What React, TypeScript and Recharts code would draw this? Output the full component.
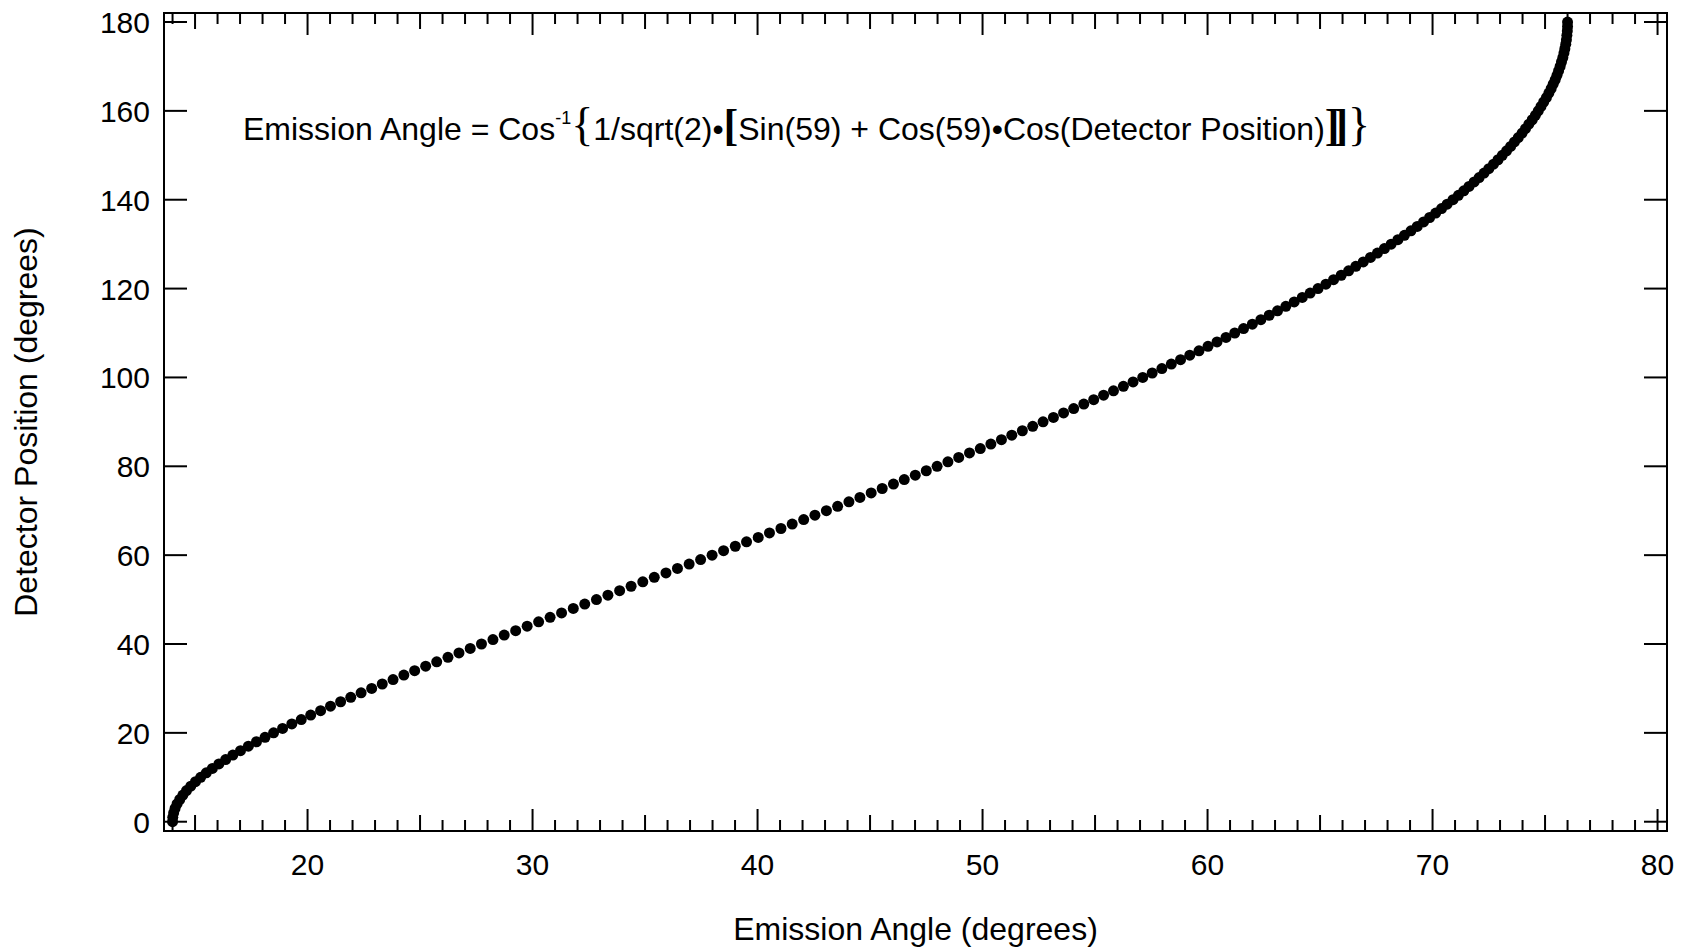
import { ScatterChart, Scatter, XAxis, YAxis, ReferenceArea } from "recharts";

// detector position (deg), one point per degree
const DETECTOR_POSITION = [
  0, 1, 2, 3, 4, 5, 6, 7, 8, 9, 10, 11, 12, 13, 14, 15, 16, 17, 18, 19,
  20, 21, 22, 23, 24, 25, 26, 27, 28, 29, 30, 31, 32, 33, 34, 35, 36, 37, 38, 39,
  40, 41, 42, 43, 44, 45, 46, 47, 48, 49, 50, 51, 52, 53, 54, 55, 56, 57, 58, 59,
  60, 61, 62, 63, 64, 65, 66, 67, 68, 69, 70, 71, 72, 73, 74, 75, 76, 77, 78, 79,
  80, 81, 82, 83, 84, 85, 86, 87, 88, 89, 90, 91, 92, 93, 94, 95, 96, 97, 98, 99,
  100, 101, 102, 103, 104, 105, 106, 107, 108, 109, 110, 111, 112, 113, 114, 115, 116, 117, 118, 119,
  120, 121, 122, 123, 124, 125, 126, 127, 128, 129, 130, 131, 132, 133, 134, 135, 136, 137, 138, 139,
  140, 141, 142, 143, 144, 145, 146, 147, 148, 149, 150, 151, 152, 153, 154, 155, 156, 157, 158, 159,
  160, 161, 162, 163, 164, 165, 166, 167, 168, 169, 170, 171, 172, 173, 174, 175, 176, 177, 178, 179,
  180,
];

// emission angle (deg) for each detector position
const EMISSION_ANGLE = [
  14.0, 14.01, 14.05, 14.11, 14.2, 14.32, 14.46, 14.62, 14.81, 15.02,
  15.25, 15.5, 15.77, 16.06, 16.36, 16.68, 17.02, 17.37, 17.73, 18.11,
  18.49, 18.89, 19.3, 19.72, 20.14, 20.58, 21.02, 21.47, 21.92, 22.38,
  22.85, 23.32, 23.8, 24.28, 24.76, 25.25, 25.74, 26.24, 26.73, 27.23,
  27.73, 28.24, 28.74, 29.25, 29.76, 30.27, 30.78, 31.29, 31.81, 32.32,
  32.84, 33.35, 33.87, 34.38, 34.9, 35.41, 35.93, 36.44, 36.96, 37.47,
  37.98, 38.49, 39.01, 39.51, 40.03, 40.53, 41.04, 41.54, 42.05, 42.55,
  43.06, 43.56, 44.06, 44.55, 45.05, 45.54, 46.04, 46.52, 47.01, 47.5,
  47.98, 48.46, 48.94, 49.42, 49.9, 50.37, 50.84, 51.3, 51.77, 52.23,
  52.69, 53.15, 53.6, 54.05, 54.5, 54.94, 55.38, 55.82, 56.26, 56.69,
  57.12, 57.54, 57.97, 58.39, 58.8, 59.21, 59.62, 60.02, 60.42, 60.82,
  61.21, 61.6, 61.99, 62.37, 62.74, 63.11, 63.48, 63.85, 64.21, 64.56,
  64.91, 65.26, 65.6, 65.94, 66.27, 66.59, 66.92, 67.24, 67.55, 67.86,
  68.16, 68.46, 68.75, 69.04, 69.32, 69.6, 69.87, 70.14, 70.4, 70.65,
  70.91, 71.15, 71.39, 71.62, 71.85, 72.07, 72.29, 72.5, 72.71, 72.91,
  73.1, 73.29, 73.47, 73.64, 73.81, 73.98, 74.13, 74.28, 74.43, 74.57,
  74.7, 74.82, 74.94, 75.06, 75.17, 75.27, 75.36, 75.45, 75.53, 75.6,
  75.67, 75.73, 75.79, 75.84, 75.88, 75.92, 75.95, 75.97, 75.99, 76.0,
  76.0,
];

const X_TICKS = [
  14, 15, 16, 17, 18, 19, 20, 21, 22, 23, 24, 25, 26, 27, 28, 29, 30,
  31, 32, 33, 34, 35, 36, 37, 38, 39, 40, 41, 42, 43, 44, 45, 46, 47,
  48, 49, 50, 51, 52, 53, 54, 55, 56, 57, 58, 59, 60, 61, 62, 63, 64,
  65, 66, 67, 68, 69, 70, 71, 72, 73, 74, 75, 76, 77, 78, 79, 80,
];
const Y_TICKS = [0, 20, 40, 60, 80, 100, 120, 140, 160, 180];

const X_DOMAIN = [13.62, 80.42];
const Y_DOMAIN = [-2.09, 182.03];

const W = 1688;
const H = 951;
const M = { top: 13, right: 21, left: 0, bottom: 0 };
const Y_AXIS_W = 164;
const X_AXIS_H = 120;
const PLOT_LEFT = M.left + Y_AXIS_W;
const PLOT_RIGHT = W - M.right;
const PLOT_TOP = M.top;
const PLOT_BOTTOM = H - X_AXIS_H;

const FONT = "'Liberation Sans', Arial, Helvetica, sans-serif";
const SERIF = "'Liberation Serif', 'Times New Roman', serif";

const data = DETECTOR_POSITION.map((d, i) => ({ x: EMISSION_ANGLE[i], y: d }));

function XTick(props: any) {
  const { x, payload } = props;
  const v = payload.value;
  const len = v % 10 === 0 ? 22 : v % 5 === 0 ? 16 : 11;
  return (
    <g>
      <line x1={x} x2={x} y1={PLOT_BOTTOM} y2={PLOT_BOTTOM - len} stroke="#000" strokeWidth={2} />
      <line x1={x} x2={x} y1={PLOT_TOP} y2={PLOT_TOP + len} stroke="#000" strokeWidth={2} />
      {v % 10 === 0 && (
        <text x={x} y={PLOT_BOTTOM + 44} textAnchor="middle" fontSize={30} fontFamily={FONT} fill="#000">
          {v}
        </text>
      )}
    </g>
  );
}

function YTick(props: any) {
  const { y, payload } = props;
  return (
    <g>
      <line x1={PLOT_LEFT} x2={PLOT_LEFT + 23} y1={y} y2={y} stroke="#000" strokeWidth={2} />
      <line x1={PLOT_RIGHT} x2={PLOT_RIGHT - 23} y1={y} y2={y} stroke="#000" strokeWidth={2} />
      <text x={PLOT_LEFT - 14} y={y + 11} textAnchor="end" fontSize={30} fontFamily={FONT} fill="#000">
        {payload.value}
      </text>
    </g>
  );
}

const Dot = (props: any) => <circle cx={props.cx} cy={props.cy} r={5.5} fill="#000" />;

export default function App() {
  return (
    <div style={{ position: "absolute", left: 0, top: 0, width: W, height: H, background: "#fff" }}>
      <ScatterChart width={W} height={H} margin={M}>
        <XAxis
          dataKey="x"
          type="number"
          domain={X_DOMAIN}
          ticks={X_TICKS}
          interval={0}
          allowDataOverflow
          axisLine={false}
          tickLine={false}
          tick={<XTick />}
          height={X_AXIS_H}
        />
        <YAxis
          dataKey="y"
          type="number"
          domain={Y_DOMAIN}
          ticks={Y_TICKS}
          interval={0}
          allowDataOverflow
          axisLine={false}
          tickLine={false}
          tick={<YTick />}
          width={Y_AXIS_W}
        />
        <ReferenceArea
          x1={X_DOMAIN[0]}
          x2={X_DOMAIN[1]}
          y1={Y_DOMAIN[0]}
          y2={Y_DOMAIN[1]}
          fill="none"
          fillOpacity={0}
          stroke="#000"
          strokeWidth={2}
          ifOverflow="visible"
        />
        <Scatter data={data} shape={Dot} isAnimationActive={false} />
      </ScatterChart>

      {/* titles and the formula annotation */}
      <svg width={W} height={H} style={{ position: "absolute", left: 0, top: 0, pointerEvents: "none" }}>
        <text x={(PLOT_LEFT + PLOT_RIGHT) / 2} y={940} textAnchor="middle" fontSize={32} fontFamily={FONT} fill="#000">
          Emission Angle (degrees)
        </text>
        <text
          transform={`translate(37, ${(PLOT_TOP + PLOT_BOTTOM) / 2}) rotate(-90)`}
          textAnchor="middle"
          fontSize={32}
          fontFamily={FONT}
          fill="#000"
        >
          Detector Position (degrees)
        </text>
        <text x={243} y={140} fontSize={32} fontFamily={FONT} fill="#000">
          <tspan>Emission Angle = Cos</tspan>
          <tspan fontSize={18} dy={-16}>-1</tspan>
          <tspan fontSize={46} fontFamily={SERIF} dy={16}>{"{"}</tspan>
          <tspan>1/sqrt(2)•</tspan>
          <tspan fontSize={44} fontFamily={SERIF} fontWeight="bold">[</tspan>
          <tspan>Sin(59) + Cos(59)•Cos(Detector Position)</tspan>
          <tspan fontSize={44} fontFamily={SERIF} fontWeight="bold" letterSpacing={-6}>]]</tspan>
          <tspan fontSize={46} fontFamily={SERIF} dx={6}>{"}"}</tspan>
        </text>
      </svg>
    </div>
  );
}
